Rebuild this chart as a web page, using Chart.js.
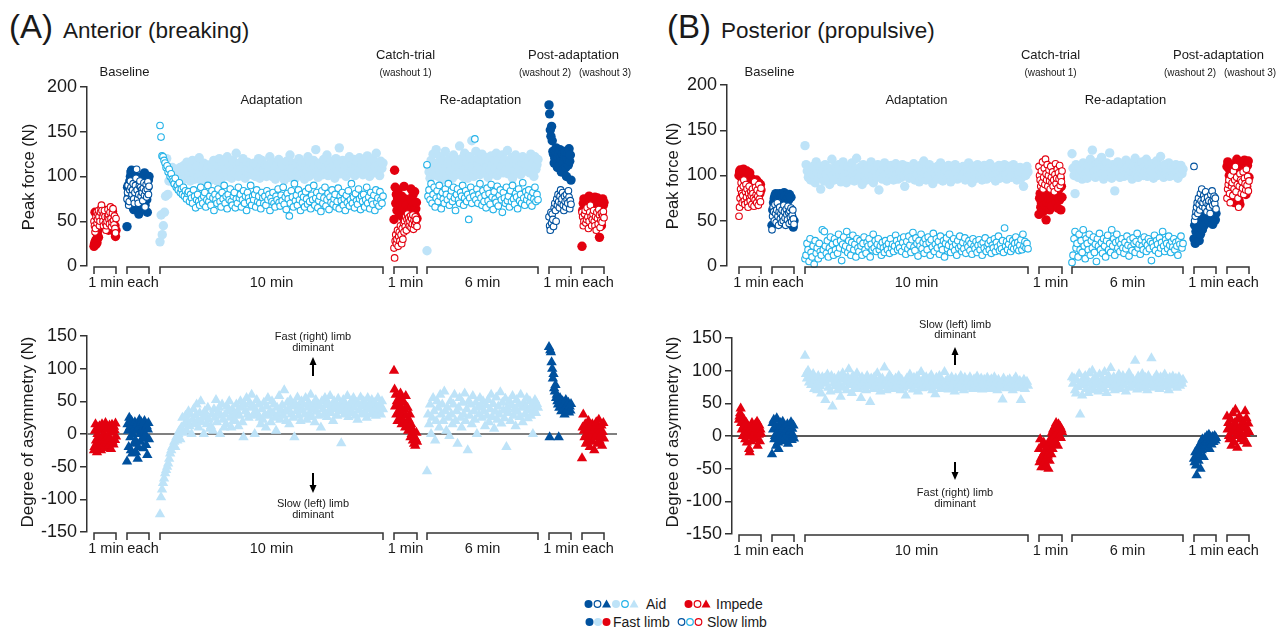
<!DOCTYPE html>
<html>
<head>
<meta charset="utf-8">
<script src="https://cdn.jsdelivr.net/npm/chart.js@4.4.1/dist/chart.umd.min.js"></script>
<style>
  html, body { margin: 0; padding: 0; background: #fff; }
  body { width: 1288px; height: 631px; position: relative; overflow: hidden;
         font-family: "Liberation Sans", Arial, sans-serif; color: #1a1a1a; }
  canvas { position: absolute; }
  .title { position: absolute; white-space: nowrap; line-height: 1; }
  .title .tag { font-size: 33px; }
  .title .name { font-size: 22.5px; margin-left: 10px; }
  .lg { position: absolute; font-size: 14px; line-height: 16px; white-space: nowrap; }
  svg.lg { overflow: visible; }
</style>
</head>
<body>
<div class="title" style="left:9px; top:10px;"><span class="tag">(A)</span><span class="name">Anterior (breaking)</span></div>
<div class="title" style="left:667px; top:10px;"><span class="tag">(B)</span><span class="name">Posterior (propulsive)</span></div>

<canvas id="antForce" width="640" height="300" style="left:0; top:0;"></canvas>
<canvas id="antAsym" width="640" height="270" style="left:0; top:300px;"></canvas>
<canvas id="postForce" width="648" height="300" style="left:640px; top:0;"></canvas>
<canvas id="postAsym" width="648" height="270" style="left:640px; top:300px;"></canvas>

<!-- key -->
<svg class="lg" width="56" height="12" style="left:584px; top:598px;">
  <circle cx="4.5" cy="6" r="4" fill="#00519e"/>
  <circle cx="13.5" cy="6" r="3.3" fill="#fff" stroke="#00519e" stroke-width="1.2"/>
  <polygon points="22.5,1.5 27,9.5 18,9.5" fill="#00519e"/>
  <circle cx="32" cy="6" r="4" fill="#bee3f8"/>
  <circle cx="41" cy="6" r="3.3" fill="#fff" stroke="#22b2e8" stroke-width="1.2"/>
  <polygon points="50,1.5 54.5,9.5 45.5,9.5" fill="#bee3f8"/>
</svg>
<span class="lg" style="left:646px; top:596px;">Aid</span>
<svg class="lg" width="26" height="12" style="left:684px; top:598px;">
  <circle cx="4.5" cy="6" r="4" fill="#e3000f"/>
  <circle cx="13.5" cy="6" r="3.3" fill="#fff" stroke="#e3000f" stroke-width="1.2"/>
  <polygon points="22,1.5 26.5,9.5 17.5,9.5" fill="#e3000f"/>
</svg>
<span class="lg" style="left:716px; top:596px;">Impede</span>
<svg class="lg" width="26" height="12" style="left:585px; top:616px;">
  <circle cx="4.5" cy="6" r="4" fill="#00519e"/>
  <circle cx="13" cy="6" r="4" fill="#bee3f8"/>
  <circle cx="21.5" cy="6" r="4" fill="#e3000f"/>
</svg>
<span class="lg" style="left:613px; top:614px;">Fast limb</span>
<svg class="lg" width="26" height="12" style="left:677px; top:616px;">
  <circle cx="4.5" cy="6" r="3.3" fill="#fff" stroke="#00519e" stroke-width="1.2"/>
  <circle cx="13" cy="6" r="3.3" fill="#fff" stroke="#22b2e8" stroke-width="1.2"/>
  <circle cx="21.5" cy="6" r="3.3" fill="#fff" stroke="#e3000f" stroke-width="1.2"/>
</svg>
<span class="lg" style="left:707px; top:614px;">Slow limb</span>

<script>
// walking blocks along the stride axis (one bracket each)
const segStart  = [7, 40, 73, 307, 340, 462, 495];
const segEnd    = [29, 62, 296, 330, 451, 484, 517];
const segLabels = ['1 min', 'each', '10 min', '1 min', '6 min', '1 min', 'each'];
const segBelt   = ['impede', 'aidDark', 'aidLight', 'impede', 'aidLight', 'aidDark', 'impede'];

const forceTicks = [0, 50, 100, 150, 200];
const asymTicks  = [-150, -100, -50, 0, 50, 100, 150];

// ---------- anterior (breaking) peak forces, N ----------
const antFastBase1 = [22, 25, 60, 28, 24, 30, 26, 35, 40, 32, 45, 55, 60, 50, 48, 55, 60, 62, 58, 50, 45, 55, 60, 62, 58, 55, 50, 45, 48, 40,
  52, 57, 63, 49, 54, 44, 58, 61, 47, 51, 43, 38, 45, 33, 40];
const antSlowBase1 = [50, 45, 38, 42, 55, 60, 48, 52, 58, 62, 55, 45, 50, 60, 65, 68, 62, 55, 50, 45, 58, 62, 55, 48, 40, 45, 50, 55, 63, 57,
  52, 47, 60, 66, 53, 44, 49, 59, 64, 51, 46, 56, 42, 37, 53];
const antFastBase2 = [44, 88, 90, 78, 72, 95, 100, 105, 107, 98, 85, 65, 63, 70, 80, 92, 100, 95, 85, 70, 62, 58, 65, 70, 80, 90, 100, 98, 87, 76,
  93, 104, 68, 82, 97, 74, 60, 88, 96, 100];
const antSlowBase2 = [75, 82, 90, 68, 72, 85, 95, 88, 78, 80, 85, 92, 75, 70, 82, 90, 98, 108, 85, 75, 70, 80, 90, 95, 88, 78, 85, 82, 73, 87,
  93, 79, 66, 84, 91, 77, 86, 94, 80, 89];
const antFastAdapt = [
  27, 57, 35, 45, 60, 78, 120, 80, 95, 105, 100, 110, 98, 92, 105, 108, 100, 95, 110, 102,
  96, 112, 104, 98, 116, 107, 100, 95, 110, 118, 103, 97, 108, 112, 100, 121, 105, 95, 110, 115,
  102, 98, 108, 113, 100, 96, 112, 104, 118, 100, 108, 95, 112, 120, 105, 98, 110, 116, 102, 108,
  122, 100, 112, 106, 98, 118, 110, 104, 126, 112, 100, 115, 108, 102, 120, 111, 98, 106, 116, 104,
  110, 114, 102, 108, 115, 100, 112, 106, 120, 98, 110, 118, 104, 108, 113, 100, 112, 105, 122, 110,
  100, 116, 107, 97, 112, 104, 119, 101, 108, 114, 103, 96, 110, 117, 105, 99, 124, 108, 102, 115,
  109, 98, 113, 106, 120, 102, 111, 116, 104, 97, 112, 108, 122, 100, 114, 107, 103, 118, 110, 130,
  105, 99, 115, 108, 112, 102, 119, 106, 110, 124, 101, 113, 108, 117, 104, 111, 98, 120, 107, 114,
  132, 103, 110, 118, 106, 112, 100, 116, 109, 122, 104, 113, 107, 119, 101, 111, 117, 105, 121, 108,
  114, 102, 118, 110, 106, 123, 112, 100, 115, 108, 120, 104, 111, 126, 107, 113, 101, 117, 109, 115];
const antSlowAdapt = [
  157, 144, 123, 122, 118, 115, 110, 112, 105, 108, 100, 103, 97, 95, 92, 98, 88, 90, 85, 93,
  82, 86, 80, 88, 78, 84, 75, 81, 83, 72, 80, 76, 70, 85, 78, 65, 74, 80, 72, 68,
  88, 75, 70, 78, 82, 66, 74, 90, 72, 78, 68, 84, 76, 62, 80, 74, 70, 86, 78, 72,
  66, 82, 75, 90, 70, 78, 64, 80, 74, 86, 72, 68, 78, 82, 65, 75, 70, 88, 76, 80,
  66, 74, 84, 70, 78, 62, 82, 76, 72, 90, 68, 78, 74, 80, 66, 85, 72, 78, 70, 64,
  82, 76, 70, 78, 68, 84, 74, 80, 62, 76, 72, 82, 70, 66, 78, 74, 86, 71, 67, 79,
  73, 88, 69, 77, 63, 81, 75, 56, 70, 84, 77, 66, 92, 73, 79, 68, 85, 74, 62, 80,
  71, 77, 66, 83, 75, 69, 87, 72, 64, 79, 74, 90, 68, 76, 82, 65, 73, 78, 61, 84,
  70, 76, 88, 67, 74, 81, 63, 77, 71, 85, 69, 75, 80, 66, 72, 87, 64, 78, 73, 82,
  68, 75, 62, 79, 71, 84, 67, 74, 92, 70, 77, 65, 81, 73, 69, 86, 75, 63, 78, 72,
  80, 66, 74, 88, 70, 77, 64, 82, 73, 69, 79, 62, 85, 71, 76, 67, 83, 74, 70, 78];
const antFastCatch = [52, 107, 88, 70, 80, 62, 75, 85, 65, 58, 72, 68, 60, 78, 55, 65, 70, 89, 62, 75, 58, 68, 55, 62, 50, 60, 48, 55, 52, 86,
  73, 66, 79, 61, 69, 83, 57, 64, 71, 53];
const antSlowCatch = [20, 9, 28, 35, 25, 30, 40, 22, 33, 38, 28, 45, 35, 25, 42, 30, 48, 38, 50, 44, 55, 40, 52, 58, 48, 54, 45, 50, 56, 43,
  53, 47, 57, 41, 51, 46, 55, 49, 52, 44];
const antFastReadapt = [
  17, 112, 105, 98, 118, 108, 125, 102, 110, 130, 115, 100, 108, 122, 112, 96, 118, 105, 128, 110,
  100, 115, 120, 106, 112, 98, 124, 108, 115, 102, 118, 110, 134, 105, 120, 100, 112, 126, 108, 116,
  98, 110, 122, 105, 140, 112, 100, 118, 128, 106, 114, 120, 102, 110, 125, 108, 116, 104, 121, 111,
  99, 117, 107, 123, 113, 103, 119, 109, 126, 101, 114, 120, 106, 111, 124, 104, 118, 112, 108, 129,
  103, 115, 110, 121, 98, 117, 107, 124, 113, 105, 119, 110, 102, 116, 122, 108, 114, 106, 120, 112,
  118, 104, 125, 110, 115, 100, 122, 108, 113, 119];
const antSlowReadapt = [
  113, 78, 85, 74, 92, 70, 80, 88, 66, 76, 84, 72, 90, 78, 64, 82, 75, 70, 86, 80,
  74, 92, 68, 78, 84, 72, 88, 76, 62, 80, 86, 74, 70, 82, 78, 90, 68, 76, 84, 72,
  80, 52, 76, 88, 70, 82, 78, 142, 74, 86, 70, 80, 92, 76, 68, 84, 72, 79, 65, 87,
  73, 81, 69, 91, 77, 63, 83, 75, 71, 89, 67, 79, 85, 74, 60, 82, 76, 70, 88, 73,
  78, 66, 84, 72, 90, 75, 69, 81, 77, 64, 86, 73, 80, 70, 93, 76, 68, 83, 74, 79,
  85, 71, 77, 67, 82, 75, 88, 72, 80, 74];
const antFastWash2 = [180, 170, 152, 145, 156, 140, 128, 125, 115, 120, 128, 132, 118, 110, 122, 126, 112, 130, 120, 105,
  118, 125, 115, 108, 122, 128, 110, 100, 120, 127, 113, 131, 117, 124, 96];
const antSlowWash2 = [55, 45, 40, 60, 48, 58, 52, 44, 65, 70, 62, 50, 75, 68, 80, 72, 65, 78, 85, 70,
  75, 82, 68, 62, 78, 72, 66, 80, 74, 70, 84, 77, 64, 73, 69];
const antFastWash3 = [22, 62, 70, 75, 68, 72, 65, 60, 74, 70, 66, 78, 72, 68, 75, 62, 70, 74, 64, 71,
  77, 67, 73, 69, 76, 63, 70, 32, 66, 73, 45, 60, 75, 68, 71];
const antSlowWash3 = [60, 55, 45, 50, 58, 62, 48, 52, 65, 55, 42, 50, 60, 68, 55, 45, 52, 58, 62, 50,
  45, 55, 40, 60, 53, 47, 63, 57, 43, 51, 59, 49, 56, 61, 54];

// anterior asymmetry (fast - slow), N
const antAsymBase1 = [-25, -20, 5, 15, -10, -15, -28, 0, 10, -5, -20, 12, 8, -12, -25, 5, 15, -8, -18, 10, 0, -22, 12, 17, -5, -15, 8, -10,
  -3, 7, -18, 13, -7, 3, -23, 9, 14, -12, 2, -16, 11, 6, -9, 16, -4];
const antAsymBase2 = [-42, 15, 5, -20, 25, 10, -5, -25, 20, -30, 0, 12, -15, 8, 18, -10, -28, 5, 15, -38, -20, 10, 22, 0, -12, 18, 5,
  -7, 14, -22, 3, 20, -3, 9, -17, 12, -32, 7, 17, -8];
const antAsymAdapt = [
  -123, -97, -85, -75, -68, -60, -55, -50, -45, -38, -30, -25, -20, -18, -12, -20, -5, -10, 0, 5,
  -8, 10, 25, 2, 15, 28, 5, 20, 35, 12, 30, 0, 22, 38, 15, 28, 45, 20, 10, 32,
  50, 18, 25, 0, 35, 28, 15, 40, 22, 8, 12, 30, 5, 38, 25, 52, 18, 32, 40, 0,
  28, 45, 22, 10, 30, 15, 42, 35, 50, 25, 10, 38, 20, 30, 20, 45, 35, 12, 28, 50,
  40, 18, -5, 45, 35, 55, 30, 25, 48, 40, 60, 28, 42, 0, 35, 52, 30, 45, 25, 15,
  38, 22, 48, 30, 10, 42, 55, 28, 35, 18, 50, 32, 45, 25, 5, 40, 30, 58, 22, 36,
  44, 28, 67, 34, 20, 48, 38, 15, 52, 30, 42, 25, -5, 46, 35, 56, 28, 40, 20, 50,
  36, 45, 30, 55, 22, 40, 48, 32, 60, 26, 44, 38, 18, 52, 34, 46, 28, 42, 10, 50,
  38, 30, 55, 44, 26, 48, 36, 58, 32, 42, 20, 50, 38, 46, 28, 54, 35, 44, -14, 40,
  52, 30, 46, 38, 58, 26, 44, 36, 50, 32, 55, 40, 28, 48, 22, 45, 36, 56, 30, 42,
  50, 34, 46, 25, 55, 38, 44, 30, 52, 40, 35, 48, 28, 42, 55, 36, 45, 30, 50, 38];
const antAsymCatch = [97, 68, 42, 60, 30, 50, 20, 45, 35, 55, 25, 62, 40, 15, 52, 30, 20, 48, 38, 10,
  58, 28, 18, 40, 5, 22, 12, 30, -5, 15, 0, 8, -10, 3, -15, -5, -18, -8, 2, -12];
const antAsymReadapt = [
  -57, 30, 15, 45, 0, 25, 55, 35, -10, 20, 50, 40, 10, 60, 30, 45, 20, 65, 35, 5,
  40, 25, -3, 50, 30, 15, 45, 60, 20, 35, -15, 40, 55, 25, 10, 48, 30, 62, 20, 38,
  -25, 50, 28, 45, 15, 58, 35, 22, 48, 0, 40, 30, 55, 42, 25, 50, 35, 12, 44, 28,
  52, 18, 38, 60, 26, 46, 8, 34, 56, 22, 42, 30, 64, 16, 48, 36, 24, 54, -20, 40,
  32, 50, 20, 44, 58, 28, 38, 12, 52, 34, 46, 26, 60, 40, 18, 48, 30, 42, 55, 24,
  36, 50, 28, 44, 0, 38, 52, 32, 46, 40];
const antAsymWash2 = [133, -5, 128, 125, 110, 100, 85, 92, 70, 65, 75, 55, 60, 50, 45, -5, 40, 55, 48, 35,
  42, 50, 38, 45, 30, 40, 52, 35, 44, 38, 48, 33, 42, 36, 46];
const antAsymWash3 = [-37, 10, 30, 5, -5, 15, -15, 0, 8, -10, 20, 5, -20, 12, -8, 0, 15, -12, 5, -25,
  10, -5, 18, 0, -15, 8, 22, -10, 5, -3, 13, -18, 3, 17, -7];

// ---------- posterior (propulsive) peak forces, N ----------
const postFastBase1 = [100, 104, 106, 103, 98, 105, 102, 100, 107, 96, 104, 98, 101, 94, 105, 96, 92, 99, 95, 103,
  88, 85, 97, 90, 82, 80, 93, 88, 84, 91, 86, 95, 81, 89, 83, 92, 87, 80, 90, 84];
const postSlowBase1 = [55, 65, 75, 85, 92, 80, 70, 78, 88, 95, 72, 68, 82, 90, 76, 85, 70, 65, 80, 88,
  75, 72, 82, 78, 68, 85, 80, 75, 66, 93, 73, 87, 79, 70, 84, 77, 67, 90, 74, 81, 71, 86];
const postFastBase2 = [45, 62, 70, 75, 78, 80, 77, 72, 68, 75, 80, 73, 76, 79, 71, 74, 81, 77, 70, 66,
  78, 75, 73, 79, 60, 76, 55, 48, 43, 50];
const postSlowBase2 = [40, 55, 65, 60, 50, 68, 58, 48, 62, 70, 55, 45, 60, 65, 52, 58, 48, 62, 55, 50,
  67, 60, 53, 45, 63, 57, 51, 66, 59, 47, 61, 54, 64, 49, 56, 62, 52, 46];
const postFastAdapt = [
  133, 112, 105, 98, 108, 95, 102, 110, 100, 92, 115, 104, 97, 110, 85, 100, 106, 94, 112, 102,
  98, 108, 90, 104, 118, 100, 95, 110, 103, 97, 112, 100, 93, 106, 115, 99, 104, 92, 110, 102,
  96, 108, 114, 100, 94, 106, 119, 101, 97, 109, 104, 90, 112, 100, 106, 95, 110, 103, 98, 115,
  100, 92, 108, 104, 98, 112, 84, 102, 110, 96, 106, 114, 100, 94, 108, 103, 97, 111, 100, 95,
  107, 113, 101, 96, 109, 104, 98, 112, 100, 88, 106, 110, 102, 97, 108, 104, 99, 113, 95, 105,
  101, 109, 93, 111, 104, 98, 116, 102, 95, 107, 100, 112, 97, 105, 91, 108, 103, 99, 110, 96,
  104, 114, 100, 94, 109, 102, 106, 97, 111, 101, 93, 107, 103, 98, 112, 105, 96, 109, 100, 106,
  98, 110, 102, 95, 108, 104, 114, 99, 106, 92, 110, 101, 105, 97, 112, 103, 99, 108, 95, 104,
  111, 100, 96, 107, 103, 113, 98, 105, 100, 109, 94, 106, 102, 111, 97, 104, 108, 99, 112, 101,
  96, 106, 103, 110, 98, 104, 112, 100, 107, 95, 105, 101, 109, 97, 103, 88, 106, 100, 110, 104];
const postSlowAdapt = [
  8, 12, 25, 18, 5, 30, 15, 10, 22, 2, 28, 14, 20, 8, 25, 16, 12, 40, 18, 38,
  22, 14, 28, 10, 20, 32, 16, 24, 12, 30, 18, 26, 14, 35, 20, 28, 6, 24, 32, 18,
  22, 38, 15, 28, 20, 12, 26, 34, 18, 24, 10, 30, 20, 16, 28, 22, 12, 25, 32, 18,
  14, 26, 22, 30, 10, 24, 18, 35, 20, 28, 16, 24, 30, 18, 22, 12, 26, 20, 15, 28,
  22, 18, 25, 14, 30, 20, 24, 16, 22, 34, 28, 18, 24, 20, 30, 16, 26, 32, 21, 13,
  27, 19, 33, 23, 15, 29, 37, 21, 17, 31, 25, 11, 28, 22, 35, 19, 26, 14, 30, 24,
  18, 32, 26, 12, 29, 21, 36, 16, 24, 30, 20, 27, 13, 33, 22, 18, 28, 10, 25, 31,
  19, 23, 35, 15, 27, 21, 30, 17, 24, 12, 28, 20, 33, 22, 16, 26, 19, 31, 14, 24,
  21, 28, 17, 25, 13, 30, 22, 19, 27, 15, 23, 29, 18, 24, 12, 26, 20, 31, 16, 22,
  25, 18, 28, 14, 23, 20, 30, 16, 26, 21, 33, 17, 24, 19, 28, 15, 42, 22, 27, 18,
  24, 30, 16, 21, 28, 19, 25, 32, 20, 26, 17, 23, 29, 18, 35, 22, 27, 20, 25, 19];
const postFastCatch = [57, 75, 80, 65, 70, 78, 62, 60, 72, 68, 80, 75, 51, 65, 70, 63, 78, 74, 62, 68,
  76, 72, 66, 98, 80, 95, 75, 90, 82, 70, 100, 77, 64, 93, 85, 73, 97, 62, 88, 76];
const postSlowCatch = [110, 100, 95, 88, 105, 92, 115, 85, 98, 108, 90, 118, 102, 95, 112, 88, 100, 106, 94, 85,
  110, 98, 92, 104, 88, 95, 82, 101, 113, 91, 97, 107, 86, 103, 96, 111, 89, 99, 93, 105];
const postFastReadapt = [
  124, 108, 100, 80, 112, 104, 98, 110, 102, 106, 96, 114, 100, 108, 103, 97, 112, 105, 118, 100,
  128, 110, 104, 98, 112, 106, 115, 100, 108, 120, 102, 96, 110, 105, 114, 100, 108, 125, 103, 97,
  112, 106, 83, 110, 101, 115, 104, 98, 108, 102, 111, 99, 106, 117, 103, 109, 100, 113, 105, 96,
  110, 104, 119, 101, 107, 98, 112, 106, 103, 115, 100, 109, 104, 118, 99, 107, 111, 102, 105, 113,
  97, 108, 103, 116, 100, 110, 106, 121, 102, 109, 98, 112, 104, 107, 101, 114, 99, 106, 110, 103,
  108, 100, 112, 104, 97, 109, 105, 111, 102, 107];
const postSlowReadapt = [
  4, 12, 30, 38, 20, 25, 10, 35, 18, 28, 15, 40, 22, 8, 30, 25, 18, 35, 12, 28,
  20, 32, 15, 24, 5, 30, 22, 36, 18, 26, 14, 30, 22, 10, 28, 34, 18, 25, 15, 40,
  22, 30, 12, 26, 35, 20, 28, 16, 24, 30, 20, 14, 26, 19, 33, 23, 11, 29, 21, 17,
  31, 25, 15, 27, 36, 20, 24, 13, 29, 22, 18, 32, 26, 16, 23, 30, 19, 27, 6, 25,
  21, 34, 17, 28, 24, 14, 31, 20, 26, 38, 22, 16, 29, 25, 19, 33, 23, 15, 27, 21,
  30, 18, 26, 22, 12, 28, 24, 33, 20, 25];
const postFastWash2 = [30, 45, 25, 38, 55, 32, 42, 50, 28, 60, 35, 48, 62, 40, 55, 65, 45, 58, 52, 62,
  48, 55, 60, 50, 65, 57, 63, 53, 59, 46, 61, 56, 64, 51, 58];
const postSlowWash2 = [110, 50, 55, 60, 65, 70, 58, 75, 68, 62, 80, 72, 85, 66, 70, 78, 74, 64, 82, 70,
  60, 76, 68, 72, 65, 58, 79, 71, 83, 67, 74, 77, 69, 75, 63];
const postFastWash3 = [110, 115, 108, 100, 95, 105, 112, 90, 85, 75, 70, 80, 110, 118, 115, 100, 72, 68, 85, 95,
  113, 108, 102, 117, 92, 79, 88, 111, 116, 98];
const postSlowWash3 = [75, 85, 90, 95, 80, 70, 100, 88, 92, 78, 105, 85, 95, 110, 82, 98, 90, 75, 65, 88,
  102, 95, 80, 93, 86, 104, 79, 97, 91, 84, 107, 89, 99, 83, 94];

// posterior asymmetry (fast - slow), N
const postAsymBase1 = [25, 30, 35, 42, 20, 10, 28, 0, 15, 25, 5, -5, 10, 20, -10, 0, 15, 8, -20, -25,
  5, 12, -8, 20, 0, 10, -5, 15, 5, 18, -3, 12, 22, -15, 7, 2, 16, -8, 10, 4];
const postAsymBase2 = [-28, 20, 10, 25, -5, 0, 15, -15, 27, 5, -10, -20, 10, 0, 20, 15, -5, 8, 22, 12,
  -8, 5, 15, 0, -5, 10, 18, -12, 3, 13, -2, 7, 21, -6, 11, 2, 16, -4];
const postAsymAdapt = [
  123, 95, 88, 100, 82, 90, 78, 85, 95, 72, 88, 80, 70, 92, 84, 76, 65, 90, 82, 88,
  55, 80, 94, 74, 86, 68, 92, 45, 80, 88, 76, 84, 70, 92, 78, 60, 86, 96, 74, 88,
  82, 70, 90, 102, 78, 84, 66, 92, 80, 74, 88, 96, 72, 84, 78, 58, 90, 82, 74, 86,
  70, 92, 80, 76, 52, 88, 84, 72, 90, 78, 82, 96, 74, 86, 68, 80, 88, 76, 105, 82,
  70, 84, 78, 93, 90, 74, 86, 80, 72, 88, 76, 84, 92, 78, 70, 86, 80, 74, 82, 62,
  88, 76, 80, 94, 84, 78, 71, 89, 83, 77, 91, 68, 85, 79, 98, 73, 87, 81, 75, 90,
  82, 74, 88, 79, 93, 70, 85, 78, 64, 89, 81, 76, 92, 72, 86, 80, 74, 98, 83, 77,
  87, 71, 84, 79, 90, 75, 82, 68, 88, 80, 73, 86, 78, 92, 76, 84, 70, 89, 81, 77,
  85, 74, 90, 79, 83, 72, 87, 80, 76, 91, 73, 84, 78, 88, 71, 82, 86, 75, 80, 89,
  77, 84, 72, 87, 80, 75, 90, 78, 83, 70, 86, 79, 74, 82, 56, 88, 76, 81, 73, 85,
  79, 87, 74, 82, 70, 85, 78, 90, 73, 80, 76, 84, 55, 81, 75, 86, 72, 79, 83, 77];
const postAsymCatch = [-20, -40, -5, -35, -48, -15, -30, -45, -10, -25, -40, -48, -20, -35, -15, -30, -50, -25, -38, -5,
  -10, -28, 5, -20, 10, -12, 0, 15, -8, 20, 5, 12, -15, 18, 8, 0, 14, -3, 10, 6];
const postAsymReadapt = [
  90, 80, 88, 70, 65, 85, 75, 95, 33, 80, 62, 88, 78, 92, 72, 84, 66, 96, 80, 74,
  100, 86, 70, 90, 78, 84, 68, 94, 82, 76, 88, 72, 98, 80, 66, 86, 92, 78, 104, 84,
  74, 90, 70, 82, 88, 76, 94, 80, 72, 86, 92, 78, 84, 68, 90, 82, 96, 74, 88, 80,
  86, 77, 115, 83, 71, 91, 79, 87, 73, 95, 81, 76, 89, 84, 70, 92, 78, 85, 119, 80,
  74, 88, 82, 93, 76, 86, 72, 90, 80, 84, 78, 94, 75, 87, 81, 70, 89, 83, 77, 91,
  85, 79, 88, 74, 82, 90, 77, 84, 80, 86];
const postAsymWash2 = [-35, -40, -25, -45, -60, -30, -20, -38, -15, -28, -50, -10, -22, -5, -18, -32, -12, -3, -15, -8,
  0, -10, -5, 2, -20, -8, -2, -13, -6, -1, -9, -4, 0, -7, -3];
const postAsymWash3 = [30, 10, 20, 0, -5, 15, 25, -15, 5, 35, 10, -10, 20, 40, 0, 15, -18, 8, 25, 30,
  5, -5, 12, 18, 0, 22, -8, 14, 38, 3, 27, -12, 9, 19, 6];

const antFast = [antFastBase1, antFastBase2, antFastAdapt, antFastCatch, antFastReadapt, antFastWash2, antFastWash3];
const antSlow = [antSlowBase1, antSlowBase2, antSlowAdapt, antSlowCatch, antSlowReadapt, antSlowWash2, antSlowWash3];
const antAsym = [antAsymBase1, antAsymBase2, antAsymAdapt, antAsymCatch, antAsymReadapt, antAsymWash2, antAsymWash3];
const postFast = [postFastBase1, postFastBase2, postFastAdapt, postFastCatch, postFastReadapt, postFastWash2, postFastWash3];
const postSlow = [postSlowBase1, postSlowBase2, postSlowAdapt, postSlowCatch, postSlowReadapt, postSlowWash2, postSlowWash3];
const postAsym = [postAsymBase1, postAsymBase2, postAsymAdapt, postAsymCatch, postAsymReadapt, postAsymWash2, postAsymWash3];

// colours per belt condition
const beltColors = {
  impede:   { fast: '#e3000f', slow: '#e3000f', tri: '#e3000f' },
  aidDark:  { fast: '#00519e', slow: '#00519e', tri: '#00519e' },
  aidLight: { fast: '#bee3f8', slow: '#22b2e8', tri: '#bee3f8' }
};
const FONT = '"Liberation Sans", Arial, sans-serif';

// strides of a block are spread evenly over its bracket
function spread(values, k) {
  const s = segStart[k], e = segEnd[k], n = values.length;
  return values.map((v, i) => ({ x: s + (e - s) * i / (n - 1), y: v }));
}

function forceSets(fast, slow) {
  const sets = [];
  fast.forEach((vals, k) => {
    const c = beltColors[segBelt[k]];
    sets.push({ data: spread(vals, k), pointStyle: 'circle', pointRadius: 4.7,
      backgroundColor: c.fast, borderColor: c.fast, borderWidth: 0, order: 2, clip: false });
    sets.push({ data: spread(slow[k], k), pointStyle: 'circle', pointRadius: 3.3,
      backgroundColor: '#ffffff', borderColor: c.slow, borderWidth: 1.1, order: 1, clip: false });
  });
  return sets;
}

function asymSets(asym) {
  return asym.map((vals, k) => {
    const c = beltColors[segBelt[k]].tri;
    return { data: spread(vals, k), pointStyle: 'triangle', pointRadius: 6,
      backgroundColor: c, borderColor: c, borderWidth: 0, clip: false };
  });
}

// brackets, phase names, axis title, zero line and arrows
const phaseMarks = {
  id: 'phaseMarks',
  beforeDatasetsDraw(chart, args, opts) {
    if (!opts.zero) return;
    const { ctx, chartArea, scales: { y } } = chart;
    const py = y.getPixelForValue(0);
    ctx.save();
    ctx.strokeStyle = opts.zero.color;
    ctx.lineWidth = opts.zero.width;
    ctx.beginPath();
    ctx.moveTo(chartArea.left, py);
    ctx.lineTo(chartArea.right, py);
    ctx.stroke();
    ctx.restore();
  },
  afterDraw(chart, args, opts) {
    const { ctx, chartArea, scales: { x } } = chart;
    ctx.save();
    ctx.fillStyle = '#1a1a1a';
    ctx.strokeStyle = '#333';
    ctx.lineWidth = 1.5;
    ctx.textAlign = 'center';
    ctx.textBaseline = 'middle';

    const top = chartArea.bottom + 1;
    ctx.font = `14.5px ${FONT}`;
    segStart.forEach((s, k) => {
      const a = x.getPixelForValue(s), b = x.getPixelForValue(segEnd[k]);
      ctx.beginPath();
      ctx.moveTo(a, top + 7); ctx.lineTo(a, top); ctx.lineTo(b, top); ctx.lineTo(b, top + 7);
      ctx.stroke();
      // "1 min" + "each" read as one phrase under two brackets
      const shift = segLabels[k] === 'each' ? 5 : (segLabels[k + 1] === 'each' ? 1 : 0);
      ctx.fillText(segLabels[k], (a + b) / 2 + shift, top + 16);
    });

    (opts.phases || []).forEach(p => {
      const a = x.getPixelForValue(segStart[p.from]), b = x.getPixelForValue(segEnd[p.to]);
      ctx.font = `${p.size}px ${FONT}`;
      ctx.fillText(p.text, (a + b) / 2 + (p.dx || 0), p.y);
    });

    if (opts.notes) {
      const nx = x.getPixelForValue(opts.noteX);
      ctx.font = `11px ${FONT}`;
      opts.notes.forEach(n => ctx.fillText(n.text, nx, n.y));
      ctx.strokeStyle = '#000';
      ctx.fillStyle = '#000';
      ctx.lineWidth = 2;
      opts.arrows.forEach(ar => {
        const dir = ar.to < ar.from ? -1 : 1;
        ctx.beginPath();
        ctx.moveTo(nx, ar.from);
        ctx.lineTo(nx, ar.to - dir * 5);
        ctx.stroke();
        ctx.beginPath();
        ctx.moveTo(nx, ar.to);
        ctx.lineTo(nx - 3.5, ar.to - dir * 8);
        ctx.lineTo(nx + 3.5, ar.to - dir * 8);
        ctx.closePath();
        ctx.fill();
      });
    }

    const t = opts.yTitle;
    ctx.fillStyle = '#1a1a1a';
    ctx.font = `${t.size}px ${FONT}`;
    ctx.translate(t.x, t.y);
    ctx.rotate(-Math.PI / 2);
    ctx.fillText(t.text, 0, 0);
    ctx.restore();
  }
};

function makeChart(id, datasets, o) {
  return new Chart(document.getElementById(id), {
    type: 'scatter',
    data: { datasets },
    options: {
      responsive: false,
      animation: false,
      devicePixelRatio: 1,
      events: [],
      layout: { padding: { top: o.padTop, bottom: o.padBottom, right: o.padRight, left: 0 } },
      scales: {
        x: { type: 'linear', display: false, min: o.xMin, max: o.xMax },
        y: {
          min: o.ticks[0],
          max: o.ticks[o.ticks.length - 1],
          afterFit: s => { s.width = o.axisWidth; },
          afterBuildTicks: s => { s.ticks = o.ticks.map(v => ({ value: v })); },
          border: { display: true, color: '#333', width: 1.5 },
          grid: { drawOnChartArea: false, drawTicks: true, tickLength: 7, color: '#333', lineWidth: 1.5 },
          ticks: { padding: 3, color: '#1a1a1a', font: { family: FONT, size: 18 } }
        }
      },
      plugins: { legend: { display: false }, tooltip: { enabled: false }, phaseMarks: o.marks }
    },
    plugins: [phaseMarks]
  });
}

function phaseNames() {
  return [
    { text: 'Baseline', from: 0, to: 1, y: 72, size: 13, dx: 3 },
    { text: 'Adaptation', from: 2, to: 2, y: 100, size: 13 },
    { text: 'Catch-trial', from: 3, to: 3, y: 55, size: 13 },
    { text: '(washout 1)', from: 3, to: 3, y: 73, size: 10 },
    { text: 'Re-adaptation', from: 4, to: 4, y: 100, size: 13, dx: -2 },
    { text: 'Post-adaptation', from: 5, to: 6, y: 55, size: 13, dx: -3 },
    { text: '(washout 2)', from: 5, to: 5, y: 73, size: 10, dx: -15 },
    { text: '(washout 3)', from: 6, to: 6, y: 73, size: 10, dx: 12 }
  ];
}

// ===== (A) anterior =====
makeChart('antForce', forceSets(antFast, antSlow), {
  ticks: forceTicks, axisWidth: 87, padTop: 87, padBottom: 34, padRight: 23, xMin: 0, xMax: 530,
  marks: { phases: phaseNames(), yTitle: { text: 'Peak force (N)', x: 29, y: 177, size: 16.5 } }
});

makeChart('antAsym', asymSets(antAsym), {
  ticks: asymTicks, axisWidth: 87, padTop: 36, padBottom: 38, padRight: 23, xMin: 0, xMax: 530,
  marks: {
    zero: { color: '#808080', width: 2 },
    yTitle: { text: 'Degree of asymmetry (N)', x: 28, y: 132, size: 17 },
    noteX: 226,
    notes: [
      { text: 'Fast (right) limb', y: 37 }, { text: 'diminant', y: 48 },
      { text: 'Slow (left) limb', y: 204 }, { text: 'diminant', y: 215 }
    ],
    arrows: [{ from: 76, to: 57 }, { from: 173, to: 193 }]
  }
});

// ===== (B) posterior =====
makeChart('postForce', forceSets(postFast, postSlow), {
  ticks: forceTicks, axisWidth: 87, padTop: 85, padBottom: 34, padRight: 31, xMin: -5, xMax: 525,
  marks: { phases: phaseNames(), yTitle: { text: 'Peak force (N)', x: 33, y: 176, size: 16.5 } }
});

makeChart('postAsym', asymSets(postAsym), {
  ticks: asymTicks, axisWidth: 92, padTop: 38, padBottom: 36, padRight: 31, xMin: 0, xMax: 525,
  marks: {
    zero: { color: '#222', width: 1.3 },
    yTitle: { text: 'Degree of asymmetry (N)', x: 33, y: 132, size: 17 },
    noteX: 223,
    notes: [
      { text: 'Slow (left) limb', y: 25 }, { text: 'diminant', y: 35 },
      { text: 'Fast (right) limb', y: 193 }, { text: 'diminant', y: 204 }
    ],
    arrows: [{ from: 65, to: 47 }, { from: 162, to: 180 }]
  }
});
</script>
</body>
</html>
